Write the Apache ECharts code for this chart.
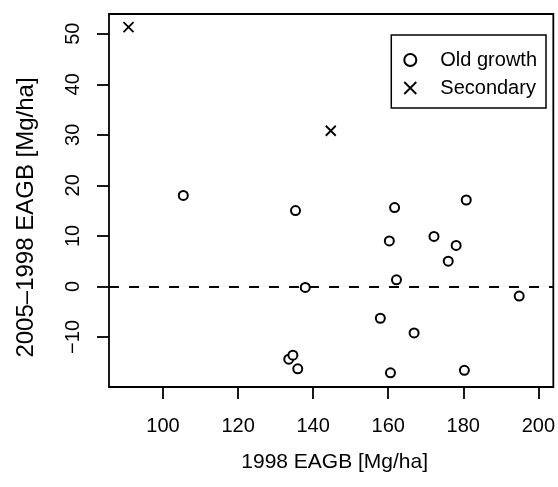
<!DOCTYPE html>
<html>
<head>
<meta charset="utf-8">
<script src="https://cdn.jsdelivr.net/npm/echarts@6/dist/echarts.min.js"></script>
<style>html,body{margin:0;padding:0;background:#fff}#c{width:558px;height:487px}</style>
</head>
<body>
<div id="c"></div>
<script>
var oldGrowthX = [105.4, 135.3, 137.9, 133.5, 134.6, 135.9, 161.7, 180.8, 160.3, 172.2, 178.1, 176.0, 162.2, 194.9, 157.9, 166.9, 160.6, 180.3];
var oldGrowthY = [18.0, 15.0, -0.2, -14.4, -13.6, -16.3, 15.6, 17.1, 9.0, 9.9, 8.1, 5.0, 1.3, -1.9, -6.3, -9.2, -17.1, -16.6];
var secondaryX = [90.8, 144.7];
var secondaryY = [51.3, 30.8];
var xTicks = [100, 120, 140, 160, 180, 200];
var yTicks = [-10, 0, 10, 20, 30, 40, 50];
var seriesNames = ['Old growth', 'Secondary'];
var xTitle = '1998 EAGB [Mg/ha]';
var yTitle = '2005\u20131998 EAGB [Mg/ha]';

var xPath = 'path://M0,0L10,10M10,0L0,10';
var font = 'Liberation Sans, Arial, Helvetica, sans-serif';
function zip(a, b) { return a.map(function (v, i) { return [v, b[i]]; }); }
function minusFmt(v) { return String(v).replace('-', '\u2212'); }

var chart = echarts.init(document.getElementById('c'), null, {renderer: 'canvas'});
chart.setOption({
  animation: false,
  backgroundColor: '#fff',
  textStyle: {fontFamily: font},
  grid: {left: 109, right: 3, top: 14, bottom: 100, show: true, borderColor: '#000', borderWidth: 1.8, backgroundColor: 'transparent'},
  xAxis: {
    type: 'value', min: 85.6, max: 204,
    name: xTitle, nameLocation: 'middle', nameGap: 65,
    nameTextStyle: {fontSize: 21, color: '#000', fontFamily: font, padding: [0, 0, 0, 7]},
    axisLine: {show: false, onZero: false},
    splitLine: {show: false},
    axisTick: {show: true, inside: false, length: 12, lineStyle: {color: '#000', width: 1.8}, customValues: xTicks},
    axisLabel: {fontSize: 20, color: '#000', margin: 29, fontFamily: font, customValues: xTicks}
  },
  yAxis: {
    type: 'value', min: -19.9, max: 53.9,
    name: yTitle, nameLocation: 'middle', nameGap: 71, nameRotate: 90,
    nameTextStyle: {fontSize: 24, color: '#000', fontFamily: font, padding: [0, 34, 0, 0]},
    axisLine: {show: false, onZero: false},
    splitLine: {show: false},
    axisTick: {show: true, inside: false, length: 12, lineStyle: {color: '#000', width: 1.8}, customValues: yTicks},
    axisLabel: {fontSize: 20, color: '#000', margin: 26, rotate: 90, fontFamily: font, customValues: yTicks, formatter: minusFmt}
  },
  legend: {
    show: true, orient: 'vertical', right: 12, top: 35,
    borderColor: '#000', borderWidth: 1.5, padding: [15, 9, 10, 12],
    itemWidth: 12, itemHeight: 12, itemGap: 8,
    textStyle: {fontSize: 20, color: '#000', fontFamily: font, padding: [0, 0, 0, 19]},
    data: [
      {name: seriesNames[0], icon: 'emptyCircle', itemStyle: {color: '#000', borderColor: '#000', borderWidth: 1.8}},
      {name: seriesNames[1], icon: xPath, itemStyle: {color: 'transparent', borderColor: '#000', borderWidth: 1.8}}
    ]
  },
  series: [
    {
      name: seriesNames[0], type: 'scatter', data: zip(oldGrowthX, oldGrowthY),
      symbol: 'emptyCircle', symbolSize: 9,
      itemStyle: {color: '#000', borderColor: '#000', borderWidth: 1.8, opacity: 1},
      markLine: {
        silent: true, symbol: ['none', 'none'], label: {show: false},
        lineStyle: {color: '#000', type: [10, 10], width: 1.8},
        data: [{yAxis: 0}]
      },
      z: 3
    },
    {
      name: seriesNames[1], type: 'scatter', data: zip(secondaryX, secondaryY),
      symbol: xPath, symbolSize: 10,
      itemStyle: {color: 'transparent', borderColor: '#000', borderWidth: 1.8, opacity: 1},
      z: 3
    }
  ]
});
</script>
</body>
</html>
